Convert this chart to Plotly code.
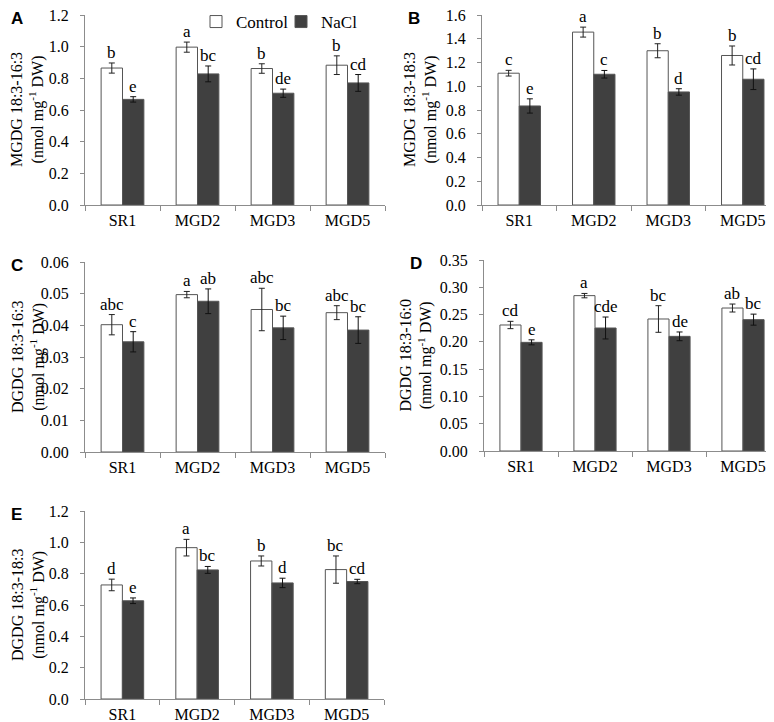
import plotly.graph_objects as go

categories = ["SR1", "MGD2", "MGD3", "MGD5"]

# Panel A: MGDG 18:3-16:3
a_ctrl = [0.865, 0.997, 0.862, 0.883]
a_ctrl_err = [0.032, 0.032, 0.030, 0.059]
a_nacl = [0.667, 0.828, 0.706, 0.771]
a_nacl_err = [0.017, 0.050, 0.026, 0.053]
a_ctrl_let = ["b", "a", "b", "b"]
a_nacl_let = ["e", "bc", "de", "cd"]

# Panel B: MGDG 18:3-18:3
b_ctrl = [1.110, 1.456, 1.299, 1.259]
b_ctrl_err = [0.024, 0.042, 0.059, 0.080]
b_nacl = [0.834, 1.101, 0.952, 1.059]
b_nacl_err = [0.060, 0.032, 0.027, 0.087]
b_ctrl_let = ["c", "a", "b", "b"]
b_nacl_let = ["e", "c", "d", "cd"]

# Panel C: DGDG 18:3-16:3
c_ctrl = [0.0402, 0.0497, 0.0450, 0.0440]
c_ctrl_err = [0.0032, 0.0010, 0.0067, 0.0022]
c_nacl = [0.0348, 0.0476, 0.0392, 0.0385]
c_nacl_err = [0.0032, 0.0039, 0.0037, 0.0042]
c_ctrl_let = ["abc", "a", "abc", "abc"]
c_nacl_let = ["c", "ab", "bc", "bc"]

# Panel D: DGDG 18:3-16:0
d_ctrl = [0.2309, 0.2847, 0.2419, 0.2620]
d_ctrl_err = [0.0067, 0.0040, 0.0244, 0.0073]
d_nacl = [0.1991, 0.2254, 0.2101, 0.2407]
d_nacl_err = [0.0046, 0.0201, 0.0080, 0.0101]
d_ctrl_let = ["cd", "a", "bc", "ab"]
d_nacl_let = ["e", "cde", "de", "bc"]

# Panel E: DGDG 18:3-18:3
e_ctrl = [0.728, 0.966, 0.881, 0.826]
e_ctrl_err = [0.037, 0.053, 0.032, 0.087]
e_nacl = [0.627, 0.824, 0.741, 0.750]
e_nacl_err = [0.018, 0.022, 0.030, 0.014]
e_ctrl_let = ["d", "a", "b", "bc"]
e_nacl_let = ["e", "bc", "d", "cd"]

panels = [
    dict(letter="A", name="MGDG 18:3-16:3", ctrl=a_ctrl, ce=a_ctrl_err, nacl=a_nacl, ne=a_nacl_err,
         cl=a_ctrl_let, nl=a_nacl_let, rng=1.2, dtick=0.2, fmt=".1f",
         px=(77, 377, 7, 197), title_x=20),
    dict(letter="B", name="MGDG 18:3-18:3", ctrl=b_ctrl, ce=b_ctrl_err, nacl=b_nacl, ne=b_nacl_err,
         cl=b_ctrl_let, nl=b_nacl_let, rng=1.6, dtick=0.2, fmt=".1f",
         px=(474, 772, 7, 197), title_x=413),
    dict(letter="C", name="DGDG 18:3-16:3", ctrl=c_ctrl, ce=c_ctrl_err, nacl=c_nacl, ne=c_nacl_err,
         cl=c_ctrl_let, nl=c_nacl_let, rng=0.06, dtick=0.01, fmt=".2f",
         px=(77, 377, 254, 444), title_x=20),
    dict(letter="D", name="DGDG 18:3-16:0", ctrl=d_ctrl, ce=d_ctrl_err, nacl=d_nacl, ne=d_nacl_err,
         cl=d_ctrl_let, nl=d_nacl_let, rng=0.35, dtick=0.05, fmt=".2f",
         px=(476, 772, 252, 443), title_x=408),
    dict(letter="E", name="DGDG 18:3-18:3", ctrl=e_ctrl, ce=e_ctrl_err, nacl=e_nacl, ne=e_nacl_err,
         cl=e_ctrl_let, nl=e_nacl_let, rng=1.2, dtick=0.2, fmt=".1f",
         px=(77, 376, 503, 691), title_x=20),
]

W, H = 774, 722
FONT = "Liberation Serif"
AXC = "#8c8c8c"
OUTLINE = "#555555"
DARK = "#404040"
BARGAP = 0.43
offset = (1 - BARGAP) / 4

fig = go.Figure()
layout = dict(
    template="none",
    width=W, height=H, margin=dict(l=0, r=0, t=0, b=0, autoexpand=False),
    paper_bgcolor="white", plot_bgcolor="white",
    barmode="group", bargap=BARGAP, bargroupgap=0,
    font=dict(family=FONT, size=16, color="black"),
    showlegend=True,
    legend=dict(orientation="h", x=188 / W, y=1 - 14 / H, xanchor="left", yanchor="middle",
                font=dict(family=FONT, size=17, color="black"), bgcolor="rgba(0,0,0,0)",
                itemwidth=30, tracegroupgap=0, entrywidth=40),
)
annotations = []

for i, p in enumerate(panels):
    n = i + 1
    xa = "x" if n == 1 else f"x{n}"
    ya = "y" if n == 1 else f"y{n}"
    x0, x1, y0, y1 = p["px"]
    fig.add_trace(go.Bar(
        x=categories, y=p["ctrl"], name="Control", xaxis=xa, yaxis=ya,
        marker=dict(color="white", line=dict(color=OUTLINE, width=1)),
        error_y=dict(type="data", array=p["ce"], visible=True, color="#222222", thickness=1, width=3),
        showlegend=(n == 1), legendgroup="ctrl", offsetgroup="ctrl",
    ))
    fig.add_trace(go.Bar(
        x=categories, y=p["nacl"], name="NaCl", xaxis=xa, yaxis=ya,
        marker=dict(color=DARK, line=dict(color=OUTLINE, width=1)),
        error_y=dict(type="data", array=p["ne"], visible=True, color="#111111", thickness=1, width=3),
        showlegend=(n == 1), legendgroup="nacl", offsetgroup="nacl",
    ))
    xkey = "xaxis" if n == 1 else f"xaxis{n}"
    ykey = "yaxis" if n == 1 else f"yaxis{n}"
    layout[xkey] = dict(
        domain=[x0 / W, x1 / W], anchor=ya, type="category", automargin=False,
        categoryorder="array", categoryarray=categories, range=[-0.5, 3.5],
        showline=True, linecolor=AXC, linewidth=1, ticks="outside", tickson="boundaries",
        ticklen=5, tickcolor=AXC, showgrid=False, zeroline=False,
        tickfont=dict(family=FONT, size=16, color="black"), ticklabelstandoff=1,
        ticklabeloverflow="allow",
    )
    layout[ykey] = dict(
        domain=[1 - y1 / H, 1 - y0 / H], anchor=xa, range=[0, p["rng"]], automargin=False,
        dtick=p["dtick"], tick0=0, tickformat=p["fmt"],
        showline=True, linecolor=AXC, linewidth=1, ticks="outside", ticklen=4, tickcolor=AXC,
        showgrid=False, zeroline=False, ticklabelstandoff=8, ticklabeloverflow="allow",
        tickfont=dict(family=FONT, size=16, color="black"),
    )
    # y-axis title (two lines, rotated)
    annotations.append(dict(x=p["title_x"] / W, y=0.5, xref="paper", yref=f"{ya} domain",
                            text=p["name"] + "<br>(nmol mg<sup>-1</sup> DW)", textangle=-90,
                            showarrow=False, xanchor="center", yanchor="middle",
                            font=dict(family=FONT, size=16, color="black")))
    # significance letters
    for j in range(len(categories)):
        annotations.append(dict(x=j - offset, y=p["ctrl"][j] + p["ce"][j], xref=xa, yref=ya,
                                text=p["cl"][j], showarrow=False, yanchor="bottom", yshift=-1,
                                font=dict(family=FONT, size=17, color="black")))
        annotations.append(dict(x=j + offset, y=p["nacl"][j] + p["ne"][j], xref=xa, yref=ya,
                                text=p["nl"][j], showarrow=False, yanchor="bottom", yshift=-1,
                                font=dict(family=FONT, size=17, color="black")))
    # panel letter
    annotations.append(dict(x=(x0 - 77 + 1) / W, y=1 - (y0 - 8) / H, xref="paper", yref="paper",
                            text="<b>" + p["letter"] + "</b>", showarrow=False,
                            xanchor="left", yanchor="top",
                            font=dict(family="Liberation Sans", size=17, color="black")))

layout["annotations"] = annotations
fig.update_layout(**layout)
fig.write_html("out.html")
